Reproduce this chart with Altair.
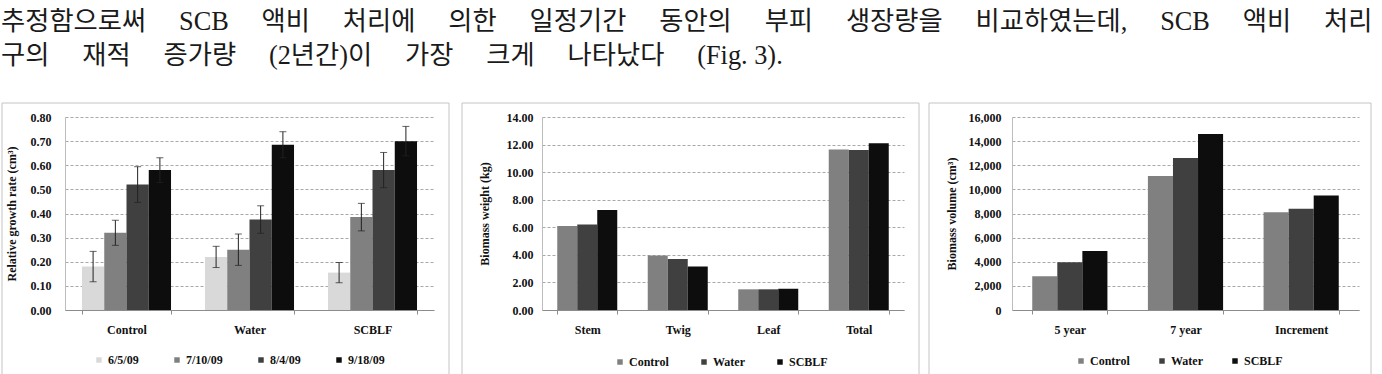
import altair as alt
import pandas as pd

# ---------------- text above the figure ----------------
line1_words = ["추정함으로써", "SCB", "액비", "처리에", "의한", "일정기간", "동안의",
               "부피", "생장량을", "비교하였는데,", "SCB", "액비", "처리"]
line2_words = ["구의", "재적", "증가량", "(2년간)이", "가장", "크게", "나타났다", "(Fig. 3)."]

# ---------------- panel 1: relative growth rate ----------------
treatments = ["Control", "Water", "SCBLF"]
dates = ["6/5/09", "7/10/09", "8/4/09", "9/18/09"]
rgr_6_5 = [0.18, 0.22, 0.155]
rgr_7_10 = [0.32, 0.25, 0.385]
rgr_8_4 = [0.52, 0.375, 0.58]
rgr_9_18 = [0.58, 0.685, 0.70]
err_6_5 = [0.063, 0.044, 0.042]
err_7_10 = [0.052, 0.065, 0.057]
err_8_4 = [0.074, 0.057, 0.073]
err_9_18 = [0.051, 0.054, 0.061]
date_colors = ["#d9d9d9", "#808080", "#404040", "#0d0d0d"]
rgr_ticks = [0.0, 0.1, 0.2, 0.3, 0.4, 0.5, 0.6, 0.7, 0.8]

# ---------------- panel 2: biomass weight ----------------
parts = ["Stem", "Twig", "Leaf", "Total"]
weight_control = [6.1, 3.95, 1.5, 11.65]
weight_water = [6.2, 3.7, 1.5, 11.6]
weight_scblf = [7.25, 3.15, 1.55, 12.1]
weight_ticks = [0, 2, 4, 6, 8, 10, 12, 14]

# ---------------- panel 3: biomass volume ----------------
periods = ["5 year", "7 year", "Increment"]
volume_control = [2800, 11100, 8100]
volume_water = [3950, 12600, 8400]
volume_scblf = [4900, 14600, 9500]
volume_ticks = [0, 2000, 4000, 6000, 8000, 10000, 12000, 14000, 16000]

treat_colors = ["#808080", "#404040", "#0d0d0d"]

# ---------------- data frames ----------------
rows = []
for d, vals, errs in zip(dates, [rgr_6_5, rgr_7_10, rgr_8_4, rgr_9_18],
                         [err_6_5, err_7_10, err_8_4, err_9_18]):
    for t, v, e in zip(treatments, vals, errs):
        rows.append({"treat": t, "date": d, "val": v, "lo": v - e, "hi": v + e})
df1 = pd.DataFrame(rows)

rows = []
for t, vals in zip(treatments, [weight_control, weight_water, weight_scblf]):
    for p, v in zip(parts, vals):
        rows.append({"cat": p, "treat": t, "val": v})
df2 = pd.DataFrame(rows)

rows = []
for t, vals in zip(treatments, [volume_control, volume_water, volume_scblf]):
    for p, v in zip(periods, vals):
        rows.append({"cat": p, "treat": t, "val": v})
df3 = pd.DataFrame(rows)

one = pd.DataFrame({"k": [0]})

F = "Liberation Serif"
TXT = "#111111"
H = 193
BOX = "#c4c4c4"
GAP = "\u3000 "


def xenc(field, sort, pin):
    return alt.X(field, sort=sort, title=None,
                 scale=alt.Scale(paddingInner=pin, paddingOuter=pin / 2),
                 axis=alt.Axis(labelAngle=0, tickBand="extent", ticks=True, tickSize=4,
                               tickColor="#8c8c8c", domainColor="#8c8c8c",
                               labelPadding=10, labelFont=F, labelFontWeight="bold",
                               labelFontSize=12, labelColor=TXT, grid=False))


def yenc(field, dom, vals, fmt, title, lpad, tx):
    return alt.Y(field, title=title,
                 scale=alt.Scale(domain=dom, nice=False, zero=True),
                 axis=alt.Axis(values=vals, format=fmt, grid=True, gridDash=[3, 2],
                               gridColor="#a8a8a8", ticks=False, domainColor="#bdbdbd",
                               labelOverlap=False, tickCount=len(vals),
                               labelPadding=lpad, labelFont=F, labelFontWeight="bold",
                               labelFontSize=12, labelColor=TXT,
                               titleFont=F, titleFontWeight="bold", titleFontSize=12,
                               titleColor=TXT, titleX=tx, titleY=H / 2, titleAngle=270,
                               titleAlign="center", titleBaseline="middle"))


def legend(lx, ly, cpad):
    return alt.Legend(orient="none", legendX=lx, legendY=ly, direction="horizontal",
                      title=None, symbolType="square", symbolSize=30, symbolStrokeWidth=0,
                      labelFont=F, labelFontWeight="bold", labelFontSize=12,
                      labelColor=TXT, labelOffset=3, columnPadding=cpad, padding=0)


def box(left, right):
    r = alt.Chart(one).mark_rule(color=BOX, strokeWidth=1)
    return [
        r.encode(x=alt.value(left), y=alt.value(-14), y2=alt.value(257)),
        r.encode(x=alt.value(right), y=alt.value(-14), y2=alt.value(257)),
        r.encode(x=alt.value(left), x2=alt.value(right), y=alt.value(-14)),
    ]


# ---- panel 1 ----
x1 = xenc("treat:N", treatments, 0.276)
xo1 = alt.XOffset("date:N", sort=dates, scale=alt.Scale(paddingInner=0, paddingOuter=0))
t1 = "Relative growth rate (cm³)"
bars1 = alt.Chart(df1).mark_bar().encode(
    x=x1, xOffset=xo1,
    y=yenc("val:Q", [0, 0.8], rgr_ticks, ".2f", t1, 14, -54),
    color=alt.Color("date:N", sort=dates, scale=alt.Scale(domain=dates, range=date_colors),
                    legend=legend(28, 237, 32)),
)
rule1 = alt.Chart(df1).mark_rule(color="#222222", strokeWidth=1).encode(
    x=x1, xOffset=xo1, y=yenc("lo:Q", [0, 0.8], rgr_ticks, ".2f", t1, 14, -54), y2="hi:Q")
caph = alt.Chart(df1).mark_tick(color="#222222", thickness=1, size=7).encode(
    x=x1, xOffset=xo1, y=yenc("hi:Q", [0, 0.8], rgr_ticks, ".2f", t1, 14, -54))
capl = alt.Chart(df1).mark_tick(color="#222222", thickness=1, size=7).encode(
    x=x1, xOffset=xo1, y=yenc("lo:Q", [0, 0.8], rgr_ticks, ".2f", t1, 14, -54))

anchor = alt.Chart(one).mark_rule(strokeOpacity=0, opacity=0).encode(
    x=alt.value(-64), x2=alt.value(-63), y=alt.value(-116))
txt1 = alt.Chart(pd.DataFrame({"t": [GAP.join(line1_words)]})).mark_text(
    align="left", baseline="middle", font="Liberation Serif, Noto Sans CJK KR",
    fontSize=26.3, color="#1a1a1a").encode(text="t:N", x=alt.value(-64), y=alt.value(-95))
txt2 = alt.Chart(pd.DataFrame({"t": [GAP.join(line2_words)]})).mark_text(
    align="left", baseline="middle", font="Liberation Serif, Noto Sans CJK KR",
    fontSize=26.3, color="#1a1a1a").encode(text="t:N", x=alt.value(-64), y=alt.value(-61))

p1 = alt.layer(*box(-63, 384), bars1, rule1, caph, capl, anchor, txt1, txt2).properties(
    width=369, height=H)

# ---- panel 2 ----
x2 = xenc("cat:N", parts, 0.337)
xo2 = alt.XOffset("treat:N", sort=treatments, scale=alt.Scale(paddingInner=0, paddingOuter=0))
bars2 = alt.Chart(df2).mark_bar().encode(
    x=x2, xOffset=xo2,
    y=yenc("val:Q", [0, 14], weight_ticks, ".2f", "Biomass weight (kg)", 9, -58),
    color=alt.Color("treat:N", sort=treatments,
                    scale=alt.Scale(domain=treatments, range=treat_colors),
                    legend=legend(72, 239, 29)),
)
p2 = alt.layer(*box(-80, 377), bars2).properties(width=362, height=H)

# ---- panel 3 ----
x3 = xenc("cat:N", periods, 0.35)
xo3 = alt.XOffset("treat:N", sort=treatments, scale=alt.Scale(paddingInner=0, paddingOuter=0))
bars3 = alt.Chart(df3).mark_bar().encode(
    x=x3, xOffset=xo3,
    y=yenc("val:Q", [0, 16000], volume_ticks, ",d", "Biomass volume (cm³)", 11, -61),
    color=alt.Color("treat:N", sort=treatments,
                    scale=alt.Scale(domain=treatments, range=treat_colors),
                    legend=legend(63, 238, 26)),
)
p3 = alt.layer(*box(-83, 359), bars3).properties(width=347, height=H)

chart = alt.hconcat(p1, p2, p3, spacing=108, bounds="flush").resolve_scale(
    x="independent", y="independent", color="independent", xOffset="independent"
).properties(padding=0, background="white").configure_view(stroke="transparent")

chart.save("out.html", embed_options={"renderer": "svg", "actions": False})
